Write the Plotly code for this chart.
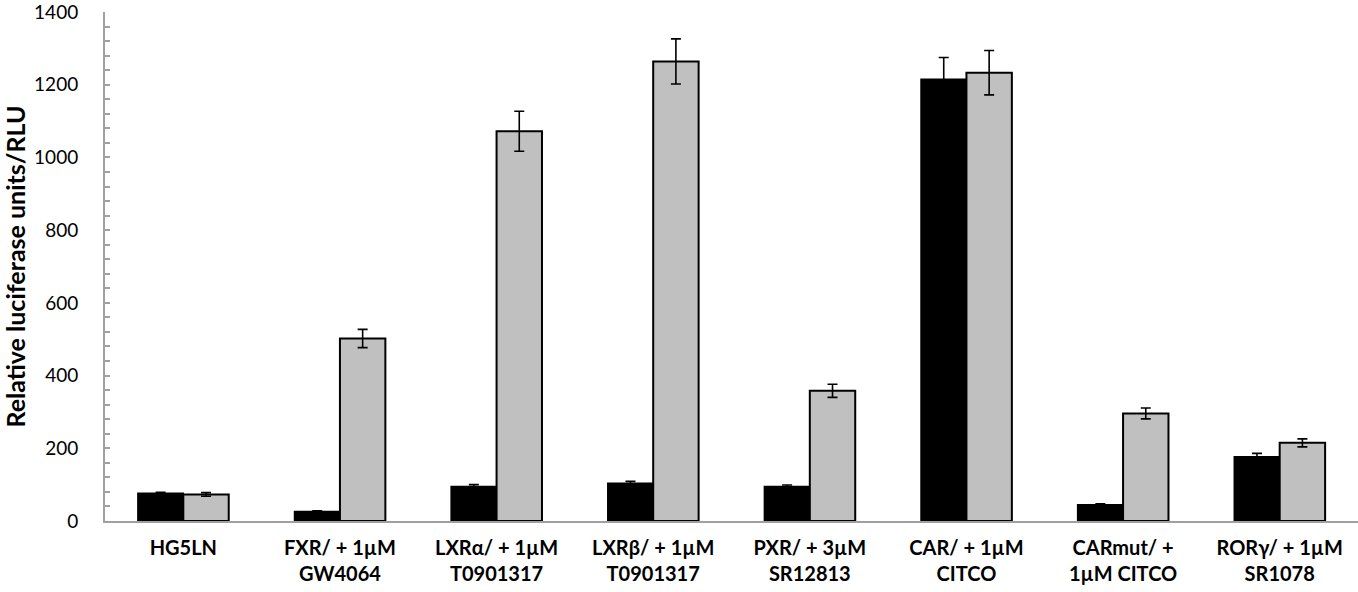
from plotly import graph_objects as go

categories = [
    "HG5LN",
    "FXR/ + 1µM<br>GW4064",
    "LXRα/ + 1µM<br>T0901317",
    "LXRβ/ + 1µM<br>T0901317",
    "PXR/ + 3µM<br>SR12813",
    "CAR/ + 1µM<br>CITCO",
    "CARmut/ +<br>1µM CITCO",
    "RORγ/ + 1µM<br>SR1078",
]
basal = [76, 26, 95, 104, 95, 1215, 45, 177]
basal_err = [3, 2, 5, 5, 4, 60, 2, 9]
treated = [73, 502, 1072, 1264, 358, 1233, 296, 215]
treated_err = [5, 25, 55, 62, 18, 61, 15, 11]

y_max = 1400
y_step = 200


def main() -> None:
    fig = go.Figure()

    fig.add_trace(
        go.Bar(
            x=categories,
            y=basal,
            name="basal",
            marker=dict(color="black", line=dict(color="black", width=1.5)),
            error_y=dict(type="data", array=basal_err, color="black", thickness=1.6, width=5),
        )
    )
    fig.add_trace(
        go.Bar(
            x=categories,
            y=treated,
            name="treated",
            marker=dict(color="#c0c0c0", line=dict(color="black", width=2)),
            error_y=dict(type="data", array=treated_err, color="black", thickness=1.6, width=5),
        )
    )

    fig.update_layout(
        width=1358,
        height=592,
        barmode="group",
        bargap=0.42,
        bargroupgap=0,
        showlegend=False,
        plot_bgcolor="white",
        paper_bgcolor="white",
        margin=dict(l=105, r=0, t=9, b=71),
        font=dict(family="Lato", color="black"),
        xaxis=dict(
            tickvals=categories,
            ticktext=["<b>" + c + "</b>" for c in categories],
            tickfont=dict(size=20),
            showline=True,
            linecolor="#a0a0a0",
            linewidth=2,
            ticks="",
            ticklabelstandoff=8,
            showgrid=False,
        ),
        yaxis=dict(
            title=dict(
                text="<b>Relative luciferase units/RLU</b>",
                font=dict(size=25),
                standoff=10,
            ),
            range=[0, y_max],
            tickmode="linear",
            tick0=0,
            dtick=y_step,
            tickfont=dict(size=19),
            ticklabeloverflow="allow",
            showline=True,
            linecolor="#a0a0a0",
            linewidth=2,
            ticks="inside",
            ticklen=5,
            tickwidth=1.5,
            tickcolor="#a0a0a0",
            ticklabelstandoff=21,
            minor=dict(dtick=40, ticks="inside", ticklen=5, tickwidth=1.5, tickcolor="#a0a0a0"),
            showgrid=False,
            zeroline=False,
        ),
    )

    # page has a default 8px body margin; drop it so the figure sits at 0,0
    fig.write_html(
        "out.html",
        config={"displayModeBar": False},
        post_script="document.body.style.margin='0';",
    )


if __name__ == "__main__":
    main()
